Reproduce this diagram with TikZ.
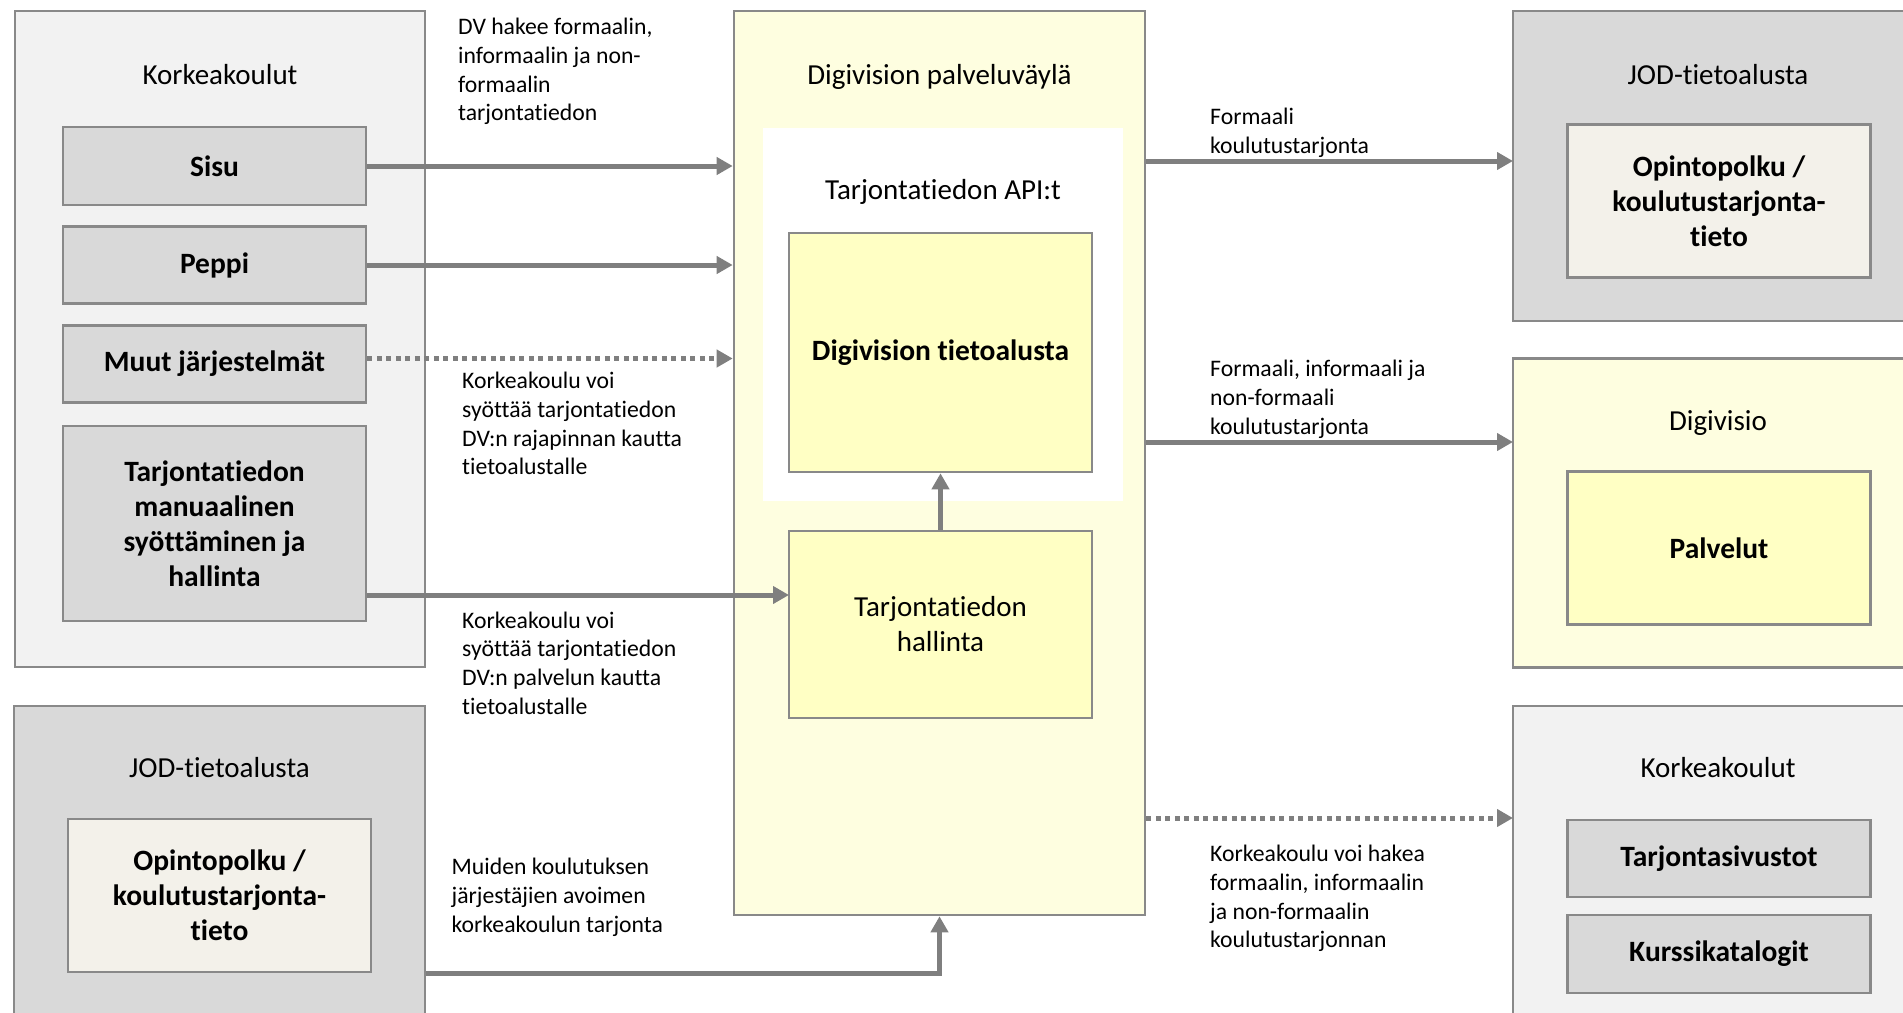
\documentclass[tikz,border=0pt]{standalone}
\usepackage{fontspec}
\setmainfont[Ligatures={NoCommon,NoContextual,NoRequired}]{Carlito}
\usetikzlibrary{arrows.meta}
\definecolor{lgc}{HTML}{F2F2F2}
\definecolor{mgc}{HTML}{D9D9D9}
\definecolor{bdc}{HTML}{898989}
\definecolor{arc}{HTML}{7F7F7F}
\definecolor{pvc}{HTML}{FEFEE0}
\definecolor{ylc}{HTML}{FFFFC4}
\definecolor{crc}{HTML}{F3F1EA}

\begin{document}
\begin{tikzpicture}[x=1pt, y=-1pt, node distance=99pt, grp/.style={rectangle, draw=bdc, line width=2.6pt, inner sep=0pt}, blk/.style={rectangle, draw=bdc, line width=2.6pt, minimum width=303pt, align=center, font=\fontsize{29.5}{35}\selectfont\bfseries}, ttl/.style={anchor=base, font=\fontsize{29}{35}\selectfont}, lbl/.style={anchor=north west, inner sep=0pt, align=left, font=\fontsize{23.7}{28.7}\selectfont}, flow/.style={draw=arc, line width=5pt, -{Triangle[width=17pt,length=16pt]}}, flowdot/.style={flow, dash pattern=on 5pt off 4.5pt}]

    \useasboundingbox (0,0) rectangle (1903,1012);
    \clip (0,0) rectangle (1903,1012);

    \node[grp, fill=lgc, minimum width=410pt, minimum height=656pt] (kkL) at (220,339) {};
    \node[grp, fill=mgc, minimum width=411pt, minimum height=310pt] (jodL) at (219.5,861) {};
    \node[grp, fill=pvc, minimum width=411pt, minimum height=904pt] (pv) at (939.5,463) {};
    \node[fill=white, minimum width=360pt, minimum height=373pt, inner sep=0pt] (api) at (943,314.5) {};
    \node[grp, fill=mgc, minimum width=410pt, minimum height=310pt] (jodR) at (1718,166) {};
    \node[grp, fill=pvc, minimum width=410pt, minimum height=309.5pt] (dv) at (1718,513) {};
    \node[grp, fill=lgc, minimum width=410pt, minimum height=310pt] (kkR) at (1718,861) {};

    \node[ttl] (kkLt) at (220,84) {Korkeakoulut};
    \node[ttl] (jodLt) at (219.5,777) {JOD-tietoalusta};
    \node[ttl] (pvt) at (939.5,84) {Digivision palveluväylä};
    \node[ttl] (apit) at (943,199) {Tarjontatiedon API:t};
    \node[ttl] (jodRt) at (1718,84) {JOD-tietoalusta};
    \node[ttl] (dvt) at (1718,430.5) {Digivisio};
    \node[ttl] (kkRt) at (1718,777) {Korkeakoulut};

    \node[blk, fill=mgc, minimum height=78pt] (sisu) at (214.5,166) {Sisu};
    \node[blk, fill=mgc, minimum height=77pt, below of=sisu] (peppi) {Peppi};
    \node[blk, fill=mgc, minimum height=77pt, below of=peppi] (muut) {Muut järjestelmät};
    \node[blk, fill=mgc, minimum height=195pt] (manual) at (214.5,523.5) {Tarjontatiedon\\ manuaalinen\\ syöttäminen ja\\ hallinta};
    \node[blk, fill=crc, minimum height=153pt] (opL) at (219.5,895.5) {Opintopolku /\\ koulutustarjonta-\\ tieto};
    \node[blk, fill=ylc, minimum height=239pt] (dta) at (940.5,352.5) {Digivision tietoalusta};
    \node[blk, fill=ylc, minimum height=187pt, font=\fontsize{29}{35}\selectfont] (hall) at (940.5,624.5) {Tarjontatiedon\\ hallinta};
    \node[blk, fill=crc, minimum height=152.5pt] (opR) at (1719,201) {Opintopolku /\\ koulutustarjonta-\\ tieto};
    \node[blk, fill=ylc, minimum height=152.5pt] (palv) at (1719,548) {Palvelut};
    \node[blk, fill=mgc, minimum height=77pt] (tsiv) at (1719,858.5) {Tarjontasivustot};
    \node[blk, fill=mgc, minimum height=78pt, below of=tsiv, node distance=95.5pt] (kkat) {Kurssikatalogit};

    \coordinate (hIn) at (789,595);
    \coordinate (jodIn) at (1513,161);
    \coordinate (dvIn) at (1513,442);
    \coordinate (kkIn) at (1513,818);

    \draw[flow] (sisu.east) -- (sisu.east -| pv.west);
    \draw[flow] (peppi.east) -- (peppi.east -| pv.west);
    \draw[flowdot] ([yshift=5.5pt]muut.east) -- ([yshift=5.5pt]muut.east -| pv.west);
    \draw[flow] (manual.east |- hIn) -- (hIn);
    \draw[flow] (hall) -- (dta);
    \draw[flow] (pv.east |- jodIn) -- (jodIn);
    \draw[flow] (pv.east |- dvIn) -- (dvIn);
    \draw[flowdot] (pv.east |- kkIn) -- (kkIn);
    \draw[flow] (jodL.east |- opL.south) -| (pv.south);

    \node[lbl] (hakee) at (458,18) {DV hakee formaalin,\\ informaalin ja non-\\ formaalin\\ tarjontatiedon};
    \node[lbl] (rajap) at (462,372) {Korkeakoulu voi\\ syöttää tarjontatiedon\\ DV:n rajapinnan kautta\\ tietoalustalle};
    \node[lbl] (palvk) at (462,611.5) {Korkeakoulu voi\\ syöttää tarjontatiedon\\ DV:n palvelun kautta\\ tietoalustalle};
    \node[lbl] (muiden) at (451.5,858) {Muiden koulutuksen\\ järjestäjien avoimen\\ korkeakoulun tarjonta};
    \node[lbl] (form) at (1210,108) {Formaali\\ koulutustarjonta};
    \node[lbl] (fino) at (1210,360) {Formaali, informaali ja\\ non-formaali\\ koulutustarjonta};
    \node[lbl] (hakea) at (1210,845) {Korkeakoulu voi hakea\\ formaalin, informaalin\\ ja non-formaalin\\ koulutustarjonnan};

  \end{tikzpicture}
\end{document}
